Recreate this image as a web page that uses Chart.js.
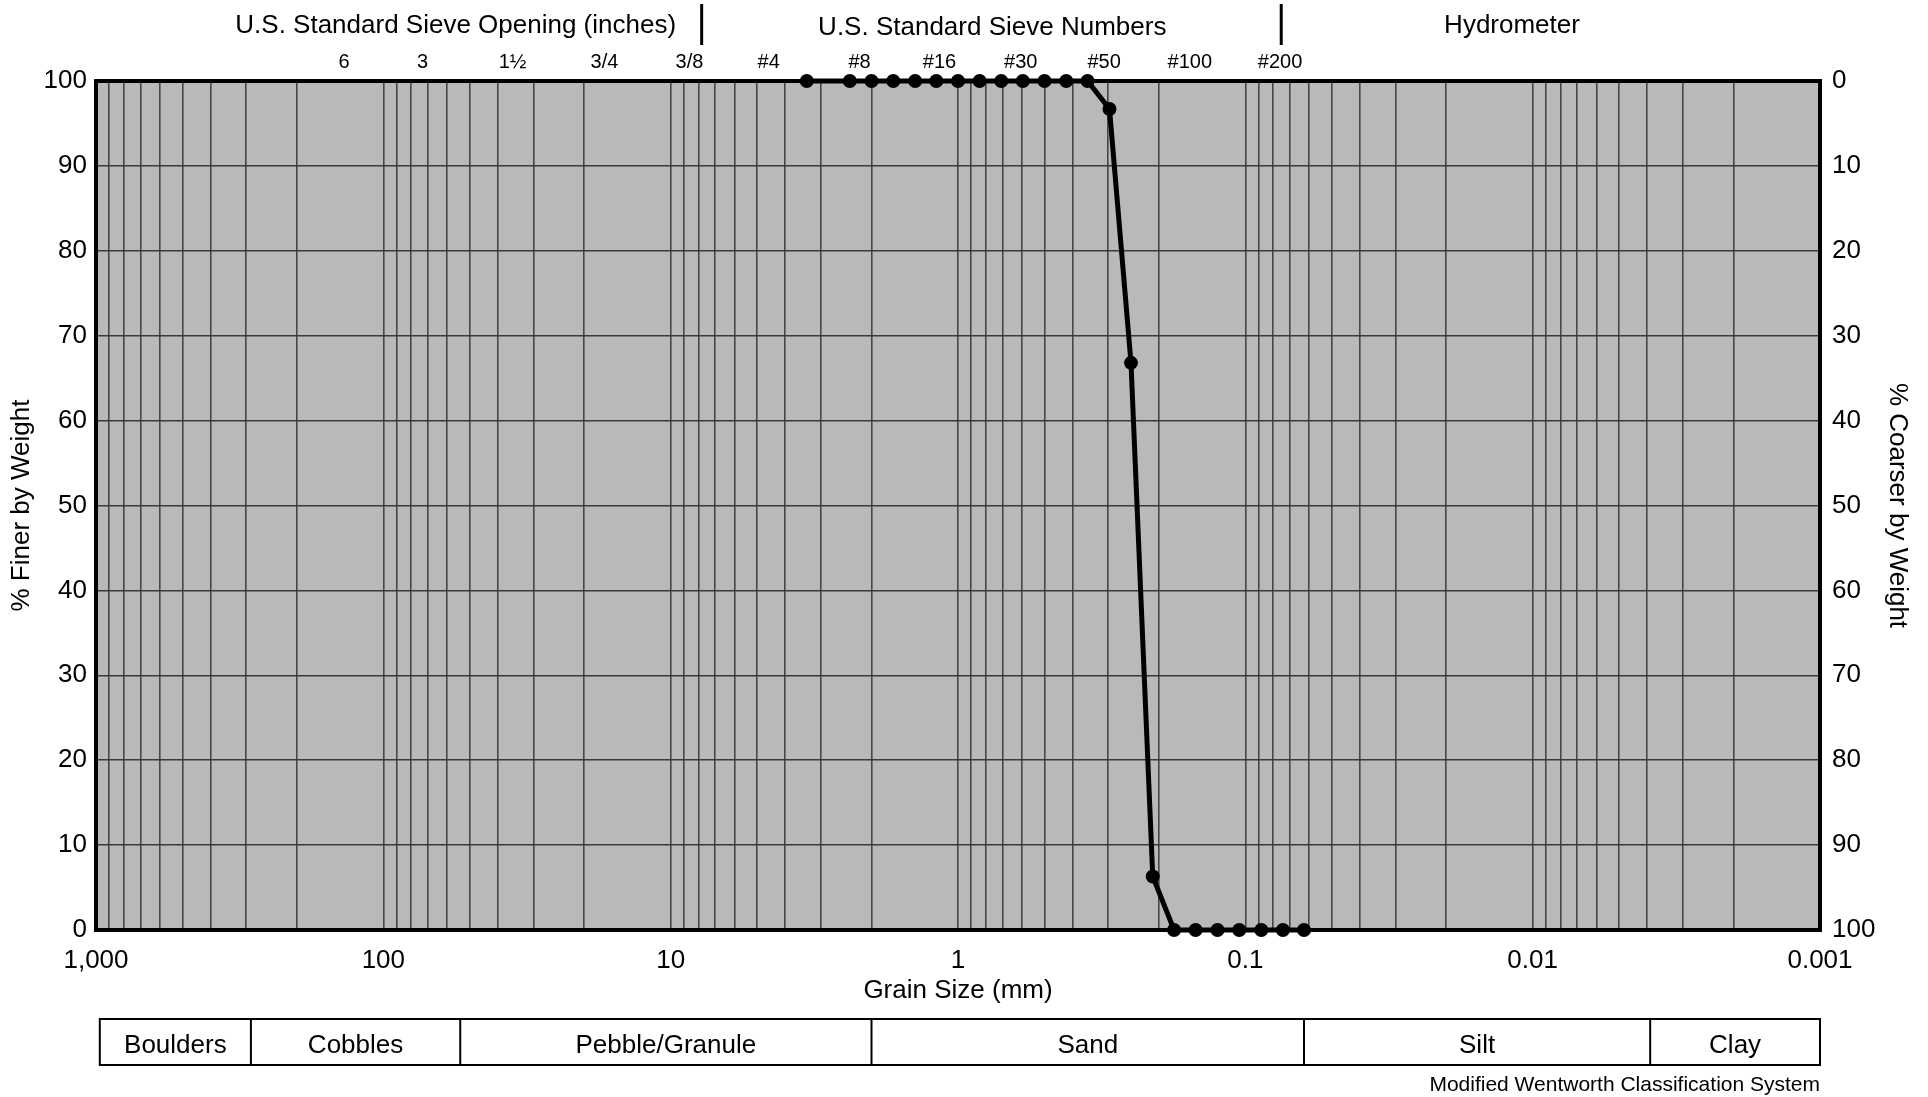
<!DOCTYPE html>
<html>
<head>
<meta charset="utf-8">
<script src="https://cdn.jsdelivr.net/npm/chart.js@4"></script>
<style>
  body { margin: 0; background: #fff; }
  #wrap { width: 1928px; height: 1097px; }
</style>
</head>
<body>
<div id="wrap"><canvas id="myChart"></canvas></div>
<script>
// grain size curve (mm vs % finer)
const grainSizeMm = [3.36, 2.38, 2.0, 1.68, 1.41, 1.19, 1.0, 0.841, 0.707, 0.595, 0.5, 0.42, 0.354,
  0.297, 0.25, 0.21,
  0.177, 0.149, 0.125, 0.105, 0.088, 0.074, 0.0625]
const percentFiner = [100, 100, 100, 100, 100, 100, 100, 100, 100, 100, 100, 100, 100,
  96.7, 66.8, 6.3,
  0, 0, 0, 0, 0, 0, 0]

const xTickValues = [1000, 100, 10, 1, 0.1, 0.01, 0.001]
const xTickLabels = ['1,000', '100', '10', '1', '0.1', '0.01', '0.001']

const sieveLabels = ['6', '3', '1½', '3/4', '3/8', '#4', '#8', '#16', '#30', '#50', '#100', '#200']
const sieveSizesMm = [137, 73, 35.5, 17, 8.6, 4.56, 2.2, 1.16, 0.605, 0.31, 0.156, 0.0757]

const headerLabels = ['U.S. Standard Sieve Opening (inches)', 'U.S. Standard Sieve Numbers', 'Hydrometer']
const headerCentersMm = [56, 0.76, 0.0118]
const headerDividersMm = [7.8, 0.075]

const classLabels = ['Boulders', 'Cobbles', 'Pebble/Granule', 'Sand', 'Silt', 'Clay']
const classEdgesMm = [970, 289, 54, 2, 0.0625, 0.0039, 0.001]

const FONT = "'Liberation Sans', Arial, sans-serif"
Chart.defaults.font.family = FONT
Chart.defaults.color = '#000'

const decorations = {
  id: 'decorations',
  beforeDraw (chart) {
    const { ctx, chartArea: a } = chart
    ctx.save()
    ctx.fillStyle = '#fff'
    ctx.fillRect(0, 0, chart.width, chart.height)
    ctx.fillStyle = '#b9b9b9'
    ctx.fillRect(a.left, a.top, a.right - a.left, a.bottom - a.top)
    ctx.restore()
  },
  beforeDatasetsDraw (chart) {
    const { ctx, chartArea: a } = chart
    ctx.save()
    ctx.strokeStyle = '#000'
    ctx.lineWidth = 4
    ctx.strokeRect(a.left, a.top, a.right - a.left, a.bottom - a.top)
    ctx.restore()
  },
  afterDraw (chart) {
    const { ctx } = chart
    const xs = chart.scales.x
    const px = v => xs.getPixelForValue(v)
    ctx.save()
    ctx.fillStyle = '#000'
    ctx.strokeStyle = '#000'
    ctx.textAlign = 'center'
    ctx.textBaseline = 'middle'

    // section headers
    ctx.font = '26px ' + FONT
    headerLabels.forEach((t, i) => ctx.fillText(t, px(headerCentersMm[i]), i === 1 ? 28 : 26))
    ctx.lineWidth = 3
    headerDividersMm.forEach(v => {
      ctx.beginPath()
      ctx.moveTo(px(v), 4)
      ctx.lineTo(px(v), 45)
      ctx.stroke()
    })

    // sieve labels
    ctx.font = '20px ' + FONT
    sieveLabels.forEach((t, i) => ctx.fillText(t, px(sieveSizesMm[i]), 62))

    // classification table
    const top = 1019
    const bottom = 1065
    ctx.lineWidth = 2
    ctx.strokeRect(px(classEdgesMm[0]), top, px(classEdgesMm[classEdgesMm.length - 1]) - px(classEdgesMm[0]), bottom - top)
    for (let i = 1; i < classEdgesMm.length - 1; i++) {
      ctx.beginPath()
      ctx.moveTo(px(classEdgesMm[i]), top)
      ctx.lineTo(px(classEdgesMm[i]), bottom)
      ctx.stroke()
    }
    ctx.font = '26px ' + FONT
    classLabels.forEach((t, i) => {
      ctx.fillText(t, (px(classEdgesMm[i]) + px(classEdgesMm[i + 1])) / 2, 1046)
    })

    ctx.font = '21px ' + FONT
    ctx.textAlign = 'right'
    ctx.fillText('Modified Wentworth Classification System', px(0.001), 1085)
    ctx.restore()
  }
}

const ctx = document.getElementById('myChart')

new Chart(ctx, {
  type: 'scatter',
  data: {
    datasets: [
      {
        data: grainSizeMm.map((d, i) => ({ x: d, y: percentFiner[i] })),
        showLine: true,
        tension: 0,
        borderColor: '#000',
        borderWidth: 5,
        pointRadius: 7,
        pointBackgroundColor: '#000',
        pointBorderWidth: 0,
        clip: false
      }
    ]
  },
  options: {
    responsive: true,
    maintainAspectRatio: false,
    animation: false,
    layout: { padding: { top: 81, left: 0, right: 0, bottom: 0 } },
    plugins: {
      legend: { display: false },
      tooltip: { enabled: false }
    },
    scales: {
      x: {
        type: 'logarithmic',
        reverse: true,
        min: 0.001,
        max: 1000,
        afterBuildTicks: scale => {
          const ticks = []
          for (let e = 3; e >= -3; e--) {
            for (let m = 1; m <= 9; m++) {
              const v = m * Math.pow(10, e)
              if (v <= 1000 && v >= 0.001) ticks.push({ value: v })
            }
          }
          scale.ticks = ticks
        },
        afterFit: scale => { scale.height = 167 },
        grid: { color: '#464646', lineWidth: 1.6, drawTicks: false },
        border: { display: false },
        ticks: {
          autoSkip: false,
          maxRotation: 0,
          padding: 15,
          font: { size: 26 },
          callback: value => {
            const i = xTickValues.findIndex(t => Math.abs(Math.log10(t) - Math.log10(value)) < 1e-6)
            return i >= 0 ? xTickLabels[i] : ''
          }
        },
        title: {
          display: true,
          text: 'Grain Size (mm)',
          font: { size: 26 },
          padding: { top: 0, bottom: 91 }
        }
      },
      y: {
        position: 'left',
        min: 0,
        max: 100,
        afterFit: scale => { scale.width = 96 },
        grid: { color: '#3a3a3a', lineWidth: 1.6, drawTicks: false },
        border: { display: false },
        ticks: { stepSize: 10, padding: 9, font: { size: 26 } },
        title: {
          display: true,
          text: '% Finer by Weight',
          font: { size: 26 },
          padding: { top: 6, bottom: 0 }
        }
      },
      y2: {
        position: 'right',
        reverse: true,
        min: 0,
        max: 100,
        afterFit: scale => { scale.width = 108 },
        grid: { display: false, drawTicks: false },
        border: { display: false },
        ticks: { stepSize: 10, padding: 12, font: { size: 26 } },
        title: {
          display: true,
          text: '% Coarser by Weight',
          font: { size: 26 },
          padding: { top: 15, bottom: 0 }
        }
      }
    }
  },
  plugins: [decorations]
})
</script>
</body>
</html>
